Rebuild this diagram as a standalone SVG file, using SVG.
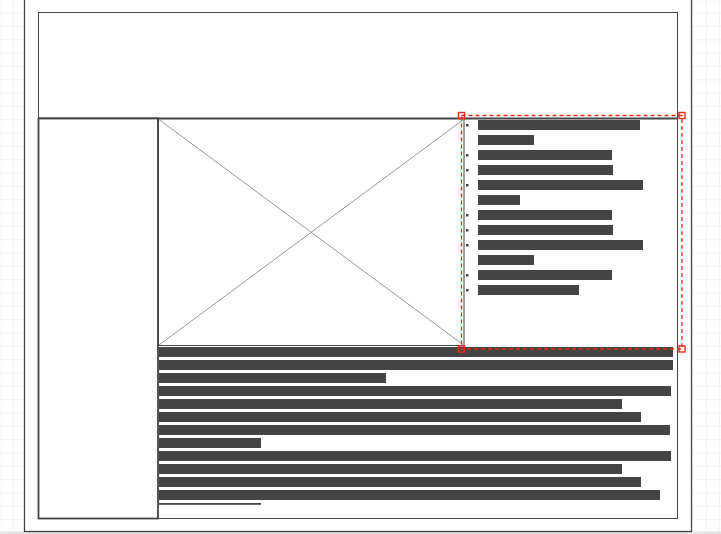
<svg xmlns="http://www.w3.org/2000/svg" width="721" height="534" viewBox="0 0 721 534">
  <defs>
    <pattern id="grid" x="12.7" y="12.7" width="13.33" height="13.33" patternUnits="userSpaceOnUse">
      <path d="M0 0.5H13.33M0.5 0V13.33" fill="none" stroke="#f3f3f3" stroke-width="1"/>
    </pattern>
    <style>
      .frame { fill: #ffffff; stroke: #444444; stroke-width: 1; }
      .thick { fill: #ffffff; stroke: #444444; stroke-width: 1.8; }
      .diag { stroke: #9a9a9a; stroke-width: 1; fill: none; }
      .bar { fill: #444444; }
      .sel { fill: none; stroke: #ee2a10; stroke-width: 1.3; stroke-dasharray: 4 3; }
      .handle { fill: none; stroke: #ee2a10; stroke-width: 1.4; }
    </style>
  </defs>

  <rect x="0" y="0" width="721" height="534" fill="#ffffff"/>
  <rect x="0" y="0" width="721" height="534" fill="url(#grid)"/>
  <rect x="0" y="531.5" width="721" height="2.5" fill="#e4e4e4"/>

  <g id="page">
    <rect x="24.5" y="-5" width="667" height="536.5" fill="#ffffff" stroke="#444444" stroke-width="1.3"/>
  </g>

  <g id="header">
    <rect class="frame" x="38.5" y="12.5" width="639" height="506"/>
    <line x1="38.5" y1="118.5" x2="677.5" y2="118.5" stroke="#444444" stroke-width="2"/>
  </g>

  <g id="sidebar">
    <rect class="thick" x="38.5" y="118.5" width="119.5" height="400"/>
  </g>

  <g id="image-placeholder">
    <rect x="158.5" y="119" width="305.5" height="226.5" fill="#ffffff" stroke="#444444" stroke-width="1"/>
    <line class="diag" x1="159" y1="119.5" x2="463.5" y2="345"/>
    <line class="diag" x1="463.5" y1="119.5" x2="159" y2="345"/>
  </g>

  <g id="bullet-list">
    <rect class="bar" x="466" y="124" width="2.5" height="2.5"/>
    <rect class="bar" x="466" y="154" width="2.5" height="2.5"/>
    <rect class="bar" x="466" y="169" width="2.5" height="2.5"/>
    <rect class="bar" x="466" y="184" width="2.5" height="2.5"/>
    <rect class="bar" x="466" y="214" width="2.5" height="2.5"/>
    <rect class="bar" x="466" y="229" width="2.5" height="2.5"/>
    <rect class="bar" x="466" y="244" width="2.5" height="2.5"/>
    <rect class="bar" x="466" y="274" width="2.5" height="2.5"/>
    <rect class="bar" x="466" y="289" width="2.5" height="2.5"/>

    <rect class="bar" x="478" y="120" width="162" height="10"/>
    <rect class="bar" x="478" y="135" width="56" height="10"/>
    <rect class="bar" x="478" y="150" width="134" height="10"/>
    <rect class="bar" x="478" y="165" width="135" height="10"/>
    <rect class="bar" x="478" y="180" width="165" height="10"/>
    <rect class="bar" x="478" y="195" width="42" height="10"/>
    <rect class="bar" x="478" y="210" width="134" height="10"/>
    <rect class="bar" x="478" y="225" width="135" height="10"/>
    <rect class="bar" x="478" y="240" width="165" height="10"/>
    <rect class="bar" x="478" y="255" width="56" height="10"/>
    <rect class="bar" x="478" y="270" width="134" height="10"/>
    <rect class="bar" x="478" y="285" width="101" height="10"/>
  </g>

  <g id="body-text">
    <rect class="bar" x="159" y="347" width="514" height="10"/>
    <rect class="bar" x="159" y="360" width="514" height="10"/>
    <rect class="bar" x="159" y="373" width="227" height="10"/>
    <rect class="bar" x="159" y="386" width="512" height="10"/>
    <rect class="bar" x="159" y="399" width="463" height="10"/>
    <rect class="bar" x="159" y="412" width="482" height="10"/>
    <rect class="bar" x="159" y="425" width="511" height="10"/>
    <rect class="bar" x="159" y="438" width="102" height="10"/>
    <rect class="bar" x="159" y="451" width="512" height="10"/>
    <rect class="bar" x="159" y="464" width="463" height="10"/>
    <rect class="bar" x="159" y="477" width="482" height="10"/>
    <rect class="bar" x="159" y="490" width="501" height="10"/>
    <rect class="bar" x="159" y="503" width="102" height="1.8"/>
  </g>

  <g id="selection">
    <rect class="sel" x="461.5" y="115.5" width="220.5" height="233.5"/>
    <rect class="handle" x="458.5" y="112.5" width="6" height="6"/>
    <rect class="handle" x="679" y="112.5" width="6" height="6"/>
    <rect class="handle" x="458.5" y="346" width="6" height="6"/>
    <rect class="handle" x="679" y="346" width="6" height="6"/>
  </g>
</svg>
